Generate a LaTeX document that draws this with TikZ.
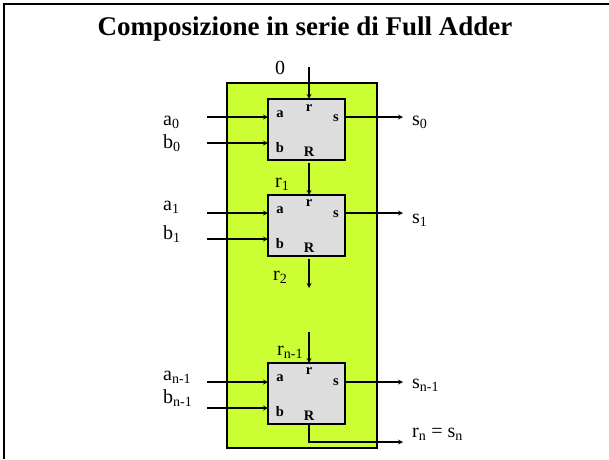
\documentclass[tikz,border=0pt]{standalone}
\usepackage{fontspec}
\setmainfont{Liberation Serif}
\usetikzlibrary{arrows, positioning, calc}
\definecolor{adderlime}{RGB}{204,255,51}
\definecolor{addergray}{RGB}{221,221,221}
\tikzstyle{adder} = [
    rectangle,
    minimum width=77pt,
    minimum height=61pt,
    inner sep=0pt,
    outer sep=0pt,
    draw=black,
    line width=1.2pt,
    fill=addergray
]
\tikzstyle{pin} = [
    font=\fontsize{14.5}{14.5}\selectfont\bfseries,
    anchor=base,
    inner sep=0pt
]
\tikzstyle{signal} = [
    font=\fontsize{20}{20}\selectfont,
    anchor=base west,
    inner sep=0pt
]
\tikzstyle{arrow} = [line width=1.2pt,->,>=stealth]

\begin{document}
\begin{tikzpicture}[x=1pt,y=-1pt]

\useasboundingbox (0,0) rectangle (609,459);
\draw [line width=2pt] (4,459) -- (4,4) -- (609,4);

\node (title) [font=\fontsize{27}{30}\selectfont\bfseries] at (305,29)
{Composizione in serie di Full Adder};

\draw [line width=1.8pt, fill=adderlime] (227,83) rectangle (377,448);

\node (fa0) [adder] at (306.5,129.5) {};
\node (fa1) [adder, below=35pt of fa0] {};
\node (fa2) [adder, below=107pt of fa1] {};

% pins inside the adders
\node (pa0) [pin] at ($(fa0.north west)+(12,18)$) {a};
\node (pb0) [pin] at ($(fa0.north west)+(12,53)$) {b};
\node (pr0) [pin] at ($(fa0.north west)+(41,12)$) {r};
\node (ps0) [pin] at ($(fa0.north west)+(68,22)$) {s};
\node (pR0) [pin] at ($(fa0.north west)+(41,57)$) {R};

\node (pa1) [pin] at ($(fa1.north west)+(12,18)$) {a};
\node (pb1) [pin] at ($(fa1.north west)+(12,53)$) {b};
\node (pr1) [pin] at ($(fa1.north west)+(41,11)$) {r};
\node (ps1) [pin] at ($(fa1.north west)+(68,22)$) {s};
\node (pR1) [pin] at ($(fa1.north west)+(41,57)$) {R};

\node (pa2) [pin] at ($(fa2.north west)+(12,18)$) {a};
\node (pb2) [pin] at ($(fa2.north west)+(12,53)$) {b};
\node (pr2) [pin] at ($(fa2.north west)+(41,11)$) {r};
\node (ps2) [pin] at ($(fa2.north west)+(68,22)$) {s};
\node (pR2) [pin] at ($(fa2.north west)+(41,57)$) {R};

% signal names
\node (a0) [signal] at (163,125) {a\textsubscript{0}};
\node (b0) [signal] at (163,148) {b\textsubscript{0}};
\node (a1) [signal] at (163,210) {a\textsubscript{1}};
\node (b1) [signal] at (163,239) {b\textsubscript{1}};
\node (a2) [signal] at (163,380) {a\textsubscript{n-1}};
\node (b2) [signal] at (163,403) {b\textsubscript{n-1}};

\node (s0) [signal] at (412,125) {s\textsubscript{0}};
\node (s1) [signal] at (412,223) {s\textsubscript{1}};
\node (s2) [signal] at (412,388) {s\textsubscript{n-1}};
\node (sn) [signal] at (412,437) {r\textsubscript{n} = s\textsubscript{n}};

\node (r0) [signal] at (275,74) {0};
\node (r1) [signal] at (275,187) {r\textsubscript{1}};
\node (r2) [signal] at (273,280) {r\textsubscript{2}};
\node (r3) [signal] at (277,355) {r\textsubscript{n-1}};

% free ends
\coordinate (a0in) at (207,117);
\coordinate (b0in) at (207,143);
\coordinate (a1in) at (207,213);
\coordinate (b1in) at (207,239);
\coordinate (a2in) at (207,382);
\coordinate (b2in) at (207,408);
\coordinate (s0out) at (403,117);
\coordinate (s1out) at (403,213);
\coordinate (s2out) at (403,382);
\coordinate (snout) at (403,442);
\coordinate (r0in) at ($(fa0.north)+(2.5,-32)$);
\coordinate (r2out) at ($(fa1.south)+(2.5,32)$);
\coordinate (r3in) at ($(fa2.north)+(2.5,-31)$);

\draw [arrow] (a0in) -- (a0in -| fa0.west);
\draw [arrow] (b0in) -- (b0in -| fa0.west);
\draw [arrow] (a1in) -- (a1in -| fa1.west);
\draw [arrow] (b1in) -- (b1in -| fa1.west);
\draw [arrow] (a2in) -- (a2in -| fa2.west);
\draw [arrow] (b2in) -- (b2in -| fa2.west);

\draw [arrow] (s0out -| fa0.east) -- (s0out);
\draw [arrow] (s1out -| fa1.east) -- (s1out);
\draw [arrow] (s2out -| fa2.east) -- (s2out);

\draw [arrow] (r0in) -- (r0in |- fa0.north);
\draw [arrow] ($(fa0.south)+(2.5,3)$) -- ($(fa1.north)+(2.5,0)$);
\draw [arrow] ($(fa1.south)+(2.5,3)$) -- (r2out);
\draw [arrow] (r3in) -- (r3in |- fa2.north);
\draw [arrow] ($(fa2.south)+(2.5,0)$) |- (snout);

\end{tikzpicture}
\end{document}
